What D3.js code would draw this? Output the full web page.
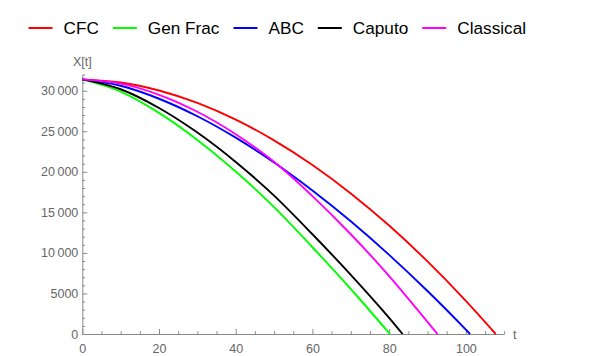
<!DOCTYPE html>
<html>
<head>
<meta charset="utf-8">
<script src="https://cdn.jsdelivr.net/npm/d3@7"></script>
<style>
  html, body { margin: 0; padding: 0; background: #fff; }
  svg { display: block; font-family: "Liberation Sans", Arial, sans-serif; }
</style>
</head>
<body>
<svg id="chart" width="596" height="356"></svg>
<script>
// ---- Data ----
const tGrid = [0, 10, 20, 30, 40, 50, 60, 70, 80, 90, 100];
const seriesNames = ["CFC", "Gen Frac", "ABC", "Caputo", "Classical"];
const seriesColors = ["#ff0000", "#00ff00", "#0000ff", "#000000", "#ff00ff"];
const cfcValues       = [31400, 31020, 30030, 28490, 26430, 23880, 20840, 17340, 13370, 8950, 4090];
const genFracValues   = [31400, 29900, 27270, 23930, 20030, 15650, 10700, 5550, 110];
const abcValues       = [31400, 30610, 29010, 26850, 24210, 21150, 17700, 13900, 9760, 5300, 540];
const caputoValues    = [31400, 30180, 27870, 24840, 21220, 17070, 12300, 7300, 1990];
const classicalValues = [31400, 30870, 29500, 27410, 24640, 21230, 17000, 12300, 7150, 1500];
const endTimes = [107.8, 80.2, 101.1, 83.5, 92.6];   // t where X[t] reaches 0
const xMajorTicks = [0, 20, 40, 60, 80, 100];
const yMajorTicks = [0, 5000, 10000, 15000, 20000, 25000, 30000];

const allValues = [cfcValues, genFracValues, abcValues, caputoValues, classicalValues];

// ---- Layout ----
const svg = d3.select("#chart");
const x = d3.scaleLinear().domain([0, 110]).range([82.3, 504.2]);
const y = d3.scaleLinear().domain([0, 32000]).range([334, 74.5]);
const axisColor = "#8a8a8a";
const labelColor = "#666666";

const fmt = d => d >= 10000 ? d3.format(",")(d).replace(",", "\u2009") : String(d);

// minor ticks
const xMinor = d3.range(0, 111, 5).filter(v => v % 20 !== 0);
const yMinor = d3.range(0, 32001, 1000).filter(v => v % 5000 !== 0);

const gx = svg.append("g").attr("transform", `translate(0,${y(0)})`);
gx.call(d3.axisBottom(x).tickValues(xMajorTicks).tickSize(-5).tickSizeOuter(0).tickPadding(10).tickFormat(fmt));
gx.append("g").call(d3.axisBottom(x).tickValues(xMinor).tickSize(-2.8).tickSizeOuter(0).tickFormat(""))
  .select(".domain").remove();

const gy = svg.append("g").attr("transform", `translate(${x(0)},0)`);
gy.call(d3.axisLeft(y).tickValues(yMajorTicks).tickSize(-5).tickSizeOuter(0).tickPadding(4).tickFormat(fmt));
gy.append("g").call(d3.axisLeft(y).tickValues(yMinor).tickSize(-2.8).tickSizeOuter(0).tickFormat(""))
  .select(".domain").remove();

svg.selectAll(".domain, .tick line").attr("stroke", axisColor).attr("stroke-width", 1);
svg.selectAll(".tick text").attr("fill", labelColor).style("font-size", "12.5px")
   .style("font-family", '"Liberation Sans", Arial, sans-serif');

// axis labels
svg.append("text").attr("x", x(0)).attr("y", 66).attr("text-anchor", "middle")
  .attr("fill", labelColor).style("font-size", "12.5px").text("X[t]");
svg.append("text").attr("x", 513).attr("y", 339).attr("text-anchor", "start")
  .attr("fill", labelColor).style("font-size", "12.5px").text("t");

// ---- Curves ----
const line = d3.line().x(d => x(d[0])).y(d => y(d[1])).curve(d3.curveMonotoneX);
[0, 1, 2, 3, 4].forEach(i => {
  const vals = allValues[i];
  const pts = vals.map((v, k) => [tGrid[k], v]).filter(p => p[0] < endTimes[i]);
  pts.push([endTimes[i], 0]);
  svg.append("path").datum(pts)
    .attr("d", line)
    .attr("fill", "none")
    .attr("stroke", seriesColors[i])
    .attr("stroke-width", 1.9);
});

// ---- Legend ----
const legend = svg.append("g").attr("transform", "translate(0,28)");
let cx = 28.5;
seriesNames.forEach((name, i) => {
  legend.append("line").attr("x1", cx).attr("x2", cx + 24).attr("y1", 0).attr("y2", 0)
    .attr("stroke", seriesColors[i]).attr("stroke-width", 2);
  const t = legend.append("text").attr("x", cx + 35).attr("y", 6)
    .style("font-size", "17.2px").attr("fill", "#000").text(name);
  const w = t.node().getComputedTextLength();
  cx = cx + 35 + w + 14;
});
</script>
</body>
</html>
